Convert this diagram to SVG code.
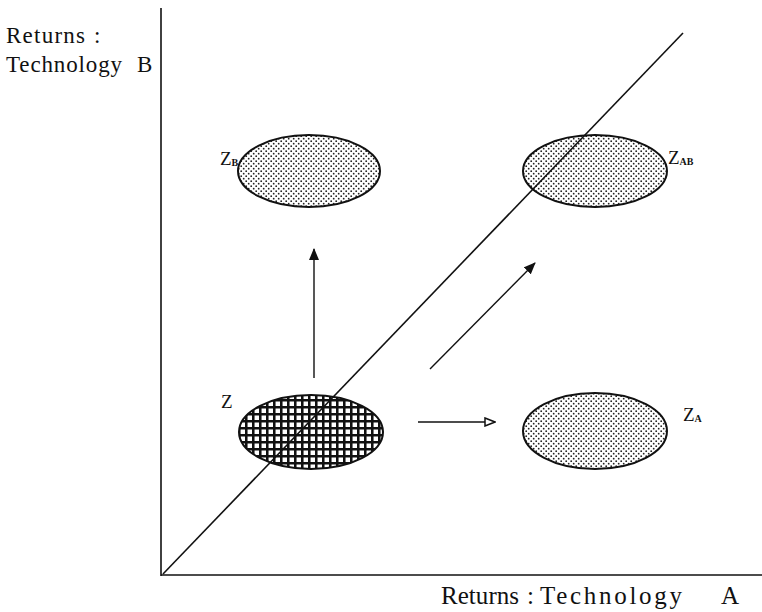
<svg xmlns="http://www.w3.org/2000/svg" width="762" height="612" viewBox="0 0 762 612">
<style>
.t{font-family:"Liberation Serif","DejaVu Serif",serif;font-size:23px;fill:#111}
.b{font-size:25px}
.lbl{font-family:"Liberation Serif","DejaVu Serif",serif;font-size:19px;fill:#111}
.sub{font-family:"Liberation Serif","DejaVu Serif",serif;font-size:10px;fill:#111;font-weight:bold}
.ax{stroke:#111;stroke-width:1.6;fill:none}
.ar{stroke:#111;stroke-width:1.4;fill:none}
.dot{fill:url(#dots);stroke:#111;stroke-width:2}
.grid{fill:url(#grid);stroke:#111;stroke-width:2}
</style>
<defs>
<pattern id="dots" width="5" height="5" patternUnits="userSpaceOnUse">
<rect width="5" height="5" fill="#fff"/>
<circle cx="1.2" cy="1.2" r="0.9" fill="#222"/>
<circle cx="3.7" cy="3.7" r="0.9" fill="#222"/>
</pattern>
<pattern id="grid" width="7" height="7" patternUnits="userSpaceOnUse">
<rect width="7" height="7" fill="#fff"/>
<path d="M0 1.2H7M1.2 0V7" stroke="#111" stroke-width="2.7"/>
</pattern>
<marker id="fill" markerWidth="12" markerHeight="10" refX="11" refY="5" orient="auto" markerUnits="userSpaceOnUse">
<path d="M0 0L12 5L0 10Z" fill="#111"/>
</marker>
<marker id="open" markerWidth="12" markerHeight="10" refX="11" refY="5" orient="auto" markerUnits="userSpaceOnUse">
<path d="M1 1L11 5L1 9Z" fill="#fff" stroke="#111" stroke-width="1.5"/>
</marker>
</defs>
<rect width="762" height="612" fill="#fff"/>
<g id="axes">
<line class="ax" x1="161" y1="8" x2="161" y2="576"/>
<line class="ax" x1="161" y1="575" x2="762" y2="575"/>
<text class="t" y="43"><tspan x="6" textLength="79" lengthAdjust="spacing">Returns</tspan><tspan x="94">:</tspan></text>
<text class="t" y="72"><tspan x="6" textLength="116" lengthAdjust="spacing">Technology</tspan><tspan x="137">B</tspan></text>
<text class="t b" y="604"><tspan x="441" textLength="78" lengthAdjust="spacing">Returns</tspan><tspan x="527">:</tspan><tspan x="540" textLength="142" lengthAdjust="spacing">Technology</tspan><tspan x="721">A</tspan></text>
</g>
<g id="node-ZB">
<ellipse class="dot" cx="309" cy="171" rx="71" ry="36"/>
<text class="lbl" x="220" y="165">Z<tspan class="sub" dy="1">B</tspan></text>
</g>
<g id="node-ZAB">
<ellipse class="dot" cx="595" cy="171" rx="72" ry="36"/>
<text class="lbl" x="668" y="164">Z<tspan class="sub" dy="1">AB</tspan></text>
</g>
<g id="node-Z">
<ellipse class="grid" cx="311" cy="432" rx="72" ry="37"/>
<text class="lbl" x="221" y="408">Z</text>
</g>
<g id="node-ZA">
<ellipse class="dot" cx="595" cy="431" rx="72" ry="38"/>
<text class="lbl" x="683" y="421">Z<tspan class="sub" dy="1">A</tspan></text>
</g>
<g id="connectors">
<line class="ax" x1="163" y1="574" x2="683" y2="33"/>
<line class="ar" x1="314" y1="378" x2="314" y2="249" marker-end="url(#fill)"/>
<line class="ar" x1="430" y1="369" x2="535" y2="263" marker-end="url(#fill)"/>
<line class="ar" x1="418" y1="422" x2="495" y2="422" marker-end="url(#open)"/>
</g>
</svg>
